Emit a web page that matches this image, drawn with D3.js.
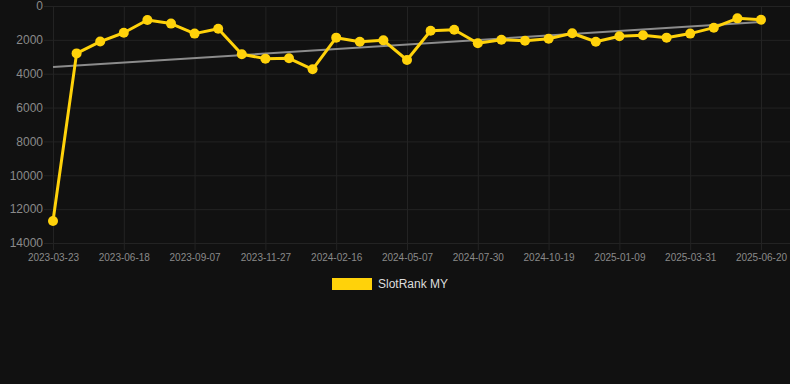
<!DOCTYPE html>
<html>
<head>
<meta charset="utf-8">
<script src="https://cdn.jsdelivr.net/npm/d3@7"></script>
<style>
  html, body { margin: 0; padding: 0; background: #111111; }
  svg { display: block; font-family: Arial, "Liberation Sans", sans-serif; }
</style>
</head>
<body>
<svg id="chart"></svg>
<script>
// Dates of each sample (only every third one is labelled)
const dates = [
    '2023-03-23', '2023-04-21', '2023-05-20', '2023-06-18', '2023-07-15', '2023-08-11',
    '2023-09-07', '2023-10-04', '2023-10-31', '2023-11-27', '2023-12-24', '2024-01-20',
    '2024-02-16', '2024-03-14', '2024-04-10', '2024-05-07', '2024-06-04', '2024-07-02',
    '2024-07-30', '2024-08-26', '2024-09-22', '2024-10-19', '2024-11-15', '2024-12-13',
    '2025-01-09', '2025-02-05', '2025-03-04', '2025-03-31', '2025-04-27', '2025-05-24',
    '2025-06-20'
];

// SlotRank MY values
const ranks = [
    12700, 2800, 2100, 1580, 830, 1040, 1630, 1340, 2850, 3110, 3090, 3740,
    1870, 2110, 2030, 3190, 1460, 1400, 2200, 1990, 2050, 1930, 1610, 2110,
    1790, 1730, 1870, 1630, 1280, 730, 810
];

const yTicks = [0, 2000, 4000, 6000, 8000, 10000, 12000, 14000];
const seriesName = 'SlotRank MY';

const width = 790;
const height = 384;
const svg = d3.select('#chart').attr('width', width).attr('height', height);

// Scales
const x = d3.scalePoint().domain(dates).range([53, 761]);
const y = d3.scaleLinear().domain([0, 14000]).range([6, 243]);

const gridColor = '#232323';

// Horizontal grid + y labels
const yAxis = svg.append('g')
    .attr('transform', 'translate(53,0)')
    .call(d3.axisLeft(y).tickValues(yTicks).tickSize(0).tickPadding(10).tickFormat(d => d));
yAxis.select('.domain').remove();
yAxis.selectAll('.tick line').attr('stroke', gridColor).attr('x1', -9).attr('x2', width - 53);
yAxis.selectAll('.tick text')
    .attr('x', -10)
    .attr('fill', '#8a8a8a')
    .style('font-size', '12px');

// Vertical grid + x labels
const xLabels = dates.filter((d, i) => i % 3 === 0);
const xAxis = svg.append('g')
    .attr('transform', 'translate(0,243)')
    .call(d3.axisBottom(x).tickValues(xLabels).tickSize(7).tickPadding(4));
xAxis.select('.domain').remove();
xAxis.selectAll('.tick line').attr('stroke', gridColor).attr('y1', -(243 - 6)).attr('y2', 7);
xAxis.selectAll('.tick text')
    .attr('fill', '#8a8a8a')
    .style('font-size', '10px');

// Linear trend (least squares over sample index)
const n = ranks.length;
const mx = d3.mean(ranks, (d, i) => i);
const my = d3.mean(ranks);
const slope = d3.sum(ranks, (d, i) => (i - mx) * (d - my)) / d3.sum(ranks, (d, i) => (i - mx) * (i - mx));
const intercept = my - slope * mx;
svg.append('line')
    .attr('x1', x(dates[0]))
    .attr('y1', y(intercept))
    .attr('x2', x(dates[n - 1]))
    .attr('y2', y(intercept + slope * (n - 1)))
    .attr('stroke', '#8c8c8c')
    .attr('stroke-width', 2);

// Series line
const yellow = '#ffd20a';
svg.append('path')
    .datum(ranks)
    .attr('fill', 'none')
    .attr('stroke', yellow)
    .attr('stroke-width', 3)
    .attr('stroke-linejoin', 'round')
    .attr('d', d3.line().x((d, i) => x(dates[i])).y(d => y(d)));

svg.append('g')
    .selectAll('circle')
    .data(ranks)
    .join('circle')
    .attr('cx', (d, i) => x(dates[i]))
    .attr('cy', d => y(d))
    .attr('r', 5)
    .attr('fill', yellow);

// Legend
const legend = svg.append('g').attr('transform', 'translate(332,278)');
legend.append('rect')
    .attr('width', 40)
    .attr('height', 12)
    .attr('fill', yellow);
legend.append('text')
    .attr('x', 46)
    .attr('y', 6)
    .attr('dy', '0.35em')
    .attr('fill', '#dddddd')
    .style('font-size', '12px')
    .text(seriesName);
</script>
</body>
</html>
